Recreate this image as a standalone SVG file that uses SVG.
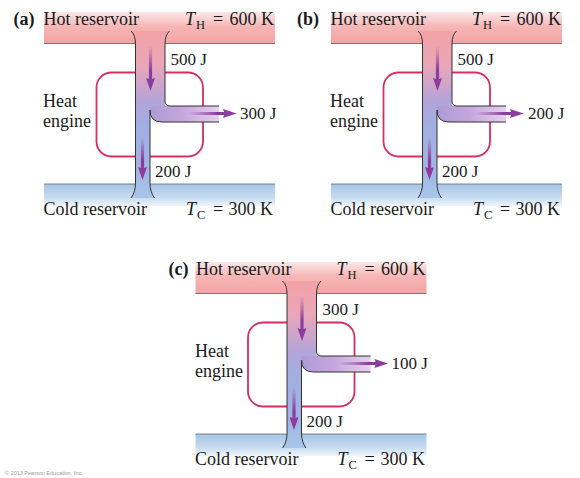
<svg xmlns="http://www.w3.org/2000/svg" xmlns:xlink="http://www.w3.org/1999/xlink" width="580" height="478" viewBox="0 0 580 478">
<style>
.t{font-family:"Liberation Serif","Times New Roman",serif;font-size:18px;fill:#1a1a1a}
.s{font-family:"Liberation Serif","Times New Roman",serif;font-size:17px;fill:#1a1a1a}
.b{font-weight:bold}
.i{font-style:italic}
.sub{font-size:12.5px}
.edge{fill:none;stroke:#333;stroke-width:1}
.bandline{fill:none;stroke:#666;stroke-width:0.8}
.engine{fill:none;stroke:#d2305e;stroke-width:1.8}
.copy{font-family:"Liberation Sans",Arial,sans-serif;font-size:5.5px;fill:#999}
</style>
<defs>
<linearGradient id="hotG" gradientUnits="userSpaceOnUse" x1="0" y1="12" x2="0" y2="44">
<stop offset="0" stop-color="#fce8e8"/><stop offset="0.45" stop-color="#f6b6b6"/><stop offset="1" stop-color="#f3a2a2"/>
</linearGradient>
<linearGradient id="coldG" gradientUnits="userSpaceOnUse" x1="0" y1="184" x2="0" y2="206">
<stop offset="0" stop-color="#a6c5e7"/><stop offset="0.6" stop-color="#c6dbf0"/><stop offset="1" stop-color="#eef4fb"/>
</linearGradient>
<linearGradient id="stemG" gradientUnits="userSpaceOnUse" x1="0" y1="31" x2="0" y2="198">
<stop offset="0" stop-color="#f3a2a6"/><stop offset="0.2" stop-color="#eaa6b8"/><stop offset="0.42" stop-color="#b4a4d8"/><stop offset="0.55" stop-color="#a2aee0"/><stop offset="0.85" stop-color="#a0b6e4"/><stop offset="1" stop-color="#a8c6e8"/>
</linearGradient>
<linearGradient id="branchG" gradientUnits="userSpaceOnUse" x1="146" y1="0" x2="219" y2="0">
<stop offset="0" stop-color="#a89ad6"/><stop offset="0.5" stop-color="#c6a6dc"/><stop offset="1" stop-color="#e6d0ef"/>
</linearGradient>
<linearGradient id="arrowDown" x1="0" y1="0" x2="0" y2="1">
<stop offset="0" stop-color="#8c3c9c" stop-opacity="0"/><stop offset="0.55" stop-color="#8c3c9c"/><stop offset="1" stop-color="#8c3c9c"/>
</linearGradient>
<linearGradient id="arrowRight" x1="0" y1="0" x2="1" y2="0">
<stop offset="0" stop-color="#8c3c9c" stop-opacity="0"/><stop offset="0.6" stop-color="#8c3c9c"/><stop offset="1" stop-color="#8c3c9c"/>
</linearGradient>
<g id="flow">
<path d="M146,106 L219,106 L219,122 L162,122 Q150,122 150,110 L146,110 Z" fill="url(#branchG)"/>
<path d="M131,31 Q135.5,35 135.5,44 L135.5,183 Q135.5,192 131,198 L154.5,198 Q150,192 150,183 L150,106 L165,106 L165,44 Q165,35 169.5,31 Z" fill="url(#stemG)"/>
<path class="edge" d="M131,31 Q135.5,35 135.5,44 L135.5,183 Q135.5,192 131,198"/>
<path class="edge" d="M169.5,31 Q165,35 165,44 L165,101 Q165,106 170,106 L219,106"/>
<path class="edge" d="M219,122 L162,122 Q150,122 150,110 L150,183 Q150,192 154.5,198"/>
<polygon points="148.9,46 152.1,46 152.1,79 155,78 150.5,91 146,78 148.9,79" fill="url(#arrowDown)"/>
<polygon points="140.9,137 144.1,137 144.1,168 147,167 142.5,180 138,167 140.9,168" fill="url(#arrowDown)"/>
<polygon points="188,111.9 224,111.9 223,109 236.5,113.5 223,118 224,115.1 188,115.1" fill="url(#arrowRight)"/>
</g>
</defs>

<!-- Panel (a) -->
<g id="panel-a">
<g id="hot-reservoir-a">
<rect x="44" y="12" width="231" height="32" fill="url(#hotG)"/>
<path class="bandline" d="M44,43.5 H135.5 M165,43.5 H275"/>
<text class="t b" x="13.5" y="25">(a)</text>
<text class="t" x="43.5" y="25">Hot reservoir</text>
<text class="t" y="25"><tspan class="i" x="185">T</tspan><tspan class="sub" x="196" dy="4">H</tspan><tspan x="213" dy="-4">=</tspan><tspan x="229.5">600 K</tspan></text>
</g>
<g id="cold-reservoir-a">
<rect x="44" y="184" width="231" height="22" fill="url(#coldG)"/>
<path class="bandline" d="M44,184 H135.5 M150,184 H275"/>
<text class="t" x="43.5" y="215">Cold reservoir</text>
<text class="t" y="215"><tspan class="i" x="186">T</tspan><tspan class="sub" x="197" dy="4">C</tspan><tspan x="213" dy="-4">=</tspan><tspan x="228.5">300 K</tspan></text>
</g>
<g id="engine-a">
<rect class="engine" x="96.5" y="72.5" width="106.5" height="84" rx="15"/>
<text class="t" x="43" y="107">Heat</text>
<text class="t" x="43" y="127">engine</text>
</g>
<g id="connectors-a">
<use xlink:href="#flow" href="#flow"/>
<text class="s" x="170.5" y="65">500 J</text>
<text class="s" x="240" y="119">300 J</text>
<text class="s" x="155" y="177">200 J</text>
</g>
</g>

<!-- Panel (b) -->
<g id="panel-b" transform="translate(287,0)">
<g id="hot-reservoir-b">
<rect x="44" y="12" width="231" height="32" fill="url(#hotG)"/>
<path class="bandline" d="M44,43.5 H135.5 M165,43.5 H275"/>
<text class="t b" x="10" y="25">(b)</text>
<text class="t" x="43.5" y="25">Hot reservoir</text>
<text class="t" y="25"><tspan class="i" x="185">T</tspan><tspan class="sub" x="196" dy="4">H</tspan><tspan x="213" dy="-4">=</tspan><tspan x="229.5">600 K</tspan></text>
</g>
<g id="cold-reservoir-b">
<rect x="44" y="184" width="231" height="22" fill="url(#coldG)"/>
<path class="bandline" d="M44,184 H135.5 M150,184 H275"/>
<text class="t" x="43.5" y="215">Cold reservoir</text>
<text class="t" y="215"><tspan class="i" x="186">T</tspan><tspan class="sub" x="197" dy="4">C</tspan><tspan x="213" dy="-4">=</tspan><tspan x="228.5">300 K</tspan></text>
</g>
<g id="engine-b">
<rect class="engine" x="96.5" y="72.5" width="106.5" height="84" rx="15"/>
<text class="t" x="43" y="107">Heat</text>
<text class="t" x="43" y="127">engine</text>
</g>
<g id="connectors-b">
<use xlink:href="#flow" href="#flow"/>
<text class="s" x="170.5" y="65">500 J</text>
<text class="s" x="241" y="119">200 J</text>
<text class="s" x="155" y="177">200 J</text>
</g>
</g>

<!-- Panel (c) -->
<g id="panel-c" transform="translate(151.5,250)">
<g id="hot-reservoir-c">
<rect x="44" y="12" width="231" height="32" fill="url(#hotG)"/>
<path class="bandline" d="M44,43.5 H135.5 M165,43.5 H275"/>
<text class="t b" x="17" y="25">(c)</text>
<text class="t" x="44.5" y="25">Hot reservoir</text>
<text class="t" y="25"><tspan class="i" x="185">T</tspan><tspan class="sub" x="196" dy="4">H</tspan><tspan x="213" dy="-4">=</tspan><tspan x="229.5">600 K</tspan></text>
</g>
<g id="cold-reservoir-c">
<rect x="44" y="184" width="231" height="22" fill="url(#coldG)"/>
<path class="bandline" d="M44,184 H135.5 M150,184 H275"/>
<text class="t" x="43.5" y="215">Cold reservoir</text>
<text class="t" y="215"><tspan class="i" x="186">T</tspan><tspan class="sub" x="197" dy="4">C</tspan><tspan x="213" dy="-4">=</tspan><tspan x="229">300 K</tspan></text>
</g>
<g id="engine-c">
<rect class="engine" x="96.5" y="72.5" width="106.5" height="84" rx="15"/>
<text class="t" x="43.5" y="107">Heat</text>
<text class="t" x="43.5" y="127">engine</text>
</g>
<g id="connectors-c">
<use xlink:href="#flow" href="#flow"/>
<text class="s" x="171" y="65">300 J</text>
<text class="s" x="240" y="119">100 J</text>
<text class="s" x="155" y="177">200 J</text>
</g>
</g>

<text class="copy" x="5" y="475">© 2013 Pearson Education, Inc.</text>
</svg>
